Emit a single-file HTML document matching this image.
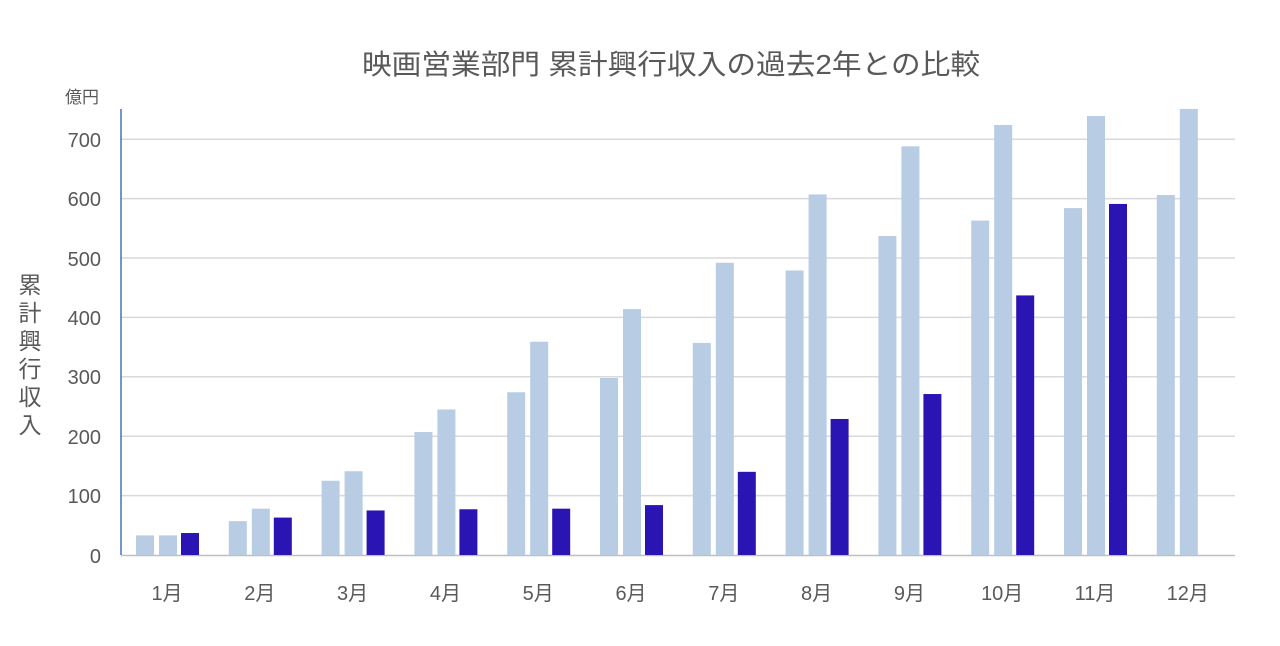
<!DOCTYPE html>
<html><head><meta charset="utf-8"><style>
body{margin:0;background:#fff}
text{font-family:"Liberation Sans","Noto Sans CJK JP",sans-serif;fill:#595959}
</style></head><body>
<svg width="1280" height="641" xmlns="http://www.w3.org/2000/svg">
<text x="671" y="74" font-size="28" text-anchor="middle" textLength="618" lengthAdjust="spacingAndGlyphs">映画営業部門 累計興行収入の過去2年との比較</text>
<text x="65" y="103" font-size="17">億円</text>
<g font-size="23" text-anchor="middle">
<text x="30" y="293">累</text><text x="30" y="321">計</text><text x="30" y="349">興</text><text x="30" y="377">行</text><text x="30" y="405">収</text><text x="30" y="433">入</text>
</g>
<g stroke="#d9d9d9" stroke-width="1.5">
<line x1="121" x2="1235" y1="495.6" y2="495.6"/><line x1="121" x2="1235" y1="436.2" y2="436.2"/>
<line x1="121" x2="1235" y1="376.8" y2="376.8"/><line x1="121" x2="1235" y1="317.4" y2="317.4"/>
<line x1="121" x2="1235" y1="258" y2="258"/><line x1="121" x2="1235" y1="198.6" y2="198.6"/>
<line x1="121" x2="1235" y1="139.2" y2="139.2"/>
</g>
<line x1="121" x2="1235" y1="555.5" y2="555.5" stroke="#bfbfbf" stroke-width="1.5"/>
<line x1="121" x2="121" y1="109" y2="555" stroke="#4472c4" stroke-width="1.5"/>
<g font-size="20" text-anchor="end">
<text x="101" y="563">0</text><text x="101" y="503">100</text><text x="101" y="444">200</text>
<text x="101" y="384">300</text><text x="101" y="325">400</text><text x="101" y="266">500</text>
<text x="101" y="206">600</text><text x="101" y="147">700</text>
</g>
<g id="bars"></g>
<g id="labels" font-size="20" text-anchor="middle"></g>
<script>
var d=[[33,33,37],[57,78,63],[125,141,75],[207,245,77],[274,359,78],[298,414,84],[357,492,140],[479,607,229],[537,688,271],[563,724,437],[584,739,591],[606,751,null]];
var g=document.getElementById('bars'),l=document.getElementById('labels'),ns='http://www.w3.org/2000/svg';
var cols=['#b8cce4','#b8cce4','#2a14b4'],off=[-31,-8,14];
d.forEach(function(r,i){var c=167+i*92.8;r.forEach(function(v,j){if(v==null)return;var h=v*0.594;var e=document.createElementNS(ns,'rect');e.setAttribute('x',c+off[j]);e.setAttribute('width',18);e.setAttribute('y',555-h);e.setAttribute('height',h);e.setAttribute('fill',cols[j]);g.appendChild(e);});
var t=document.createElementNS(ns,'text');t.setAttribute('x',c);t.setAttribute('y',600);t.textContent=(i+1)+'月';l.appendChild(t);});
</script>
</svg>
</body></html>
